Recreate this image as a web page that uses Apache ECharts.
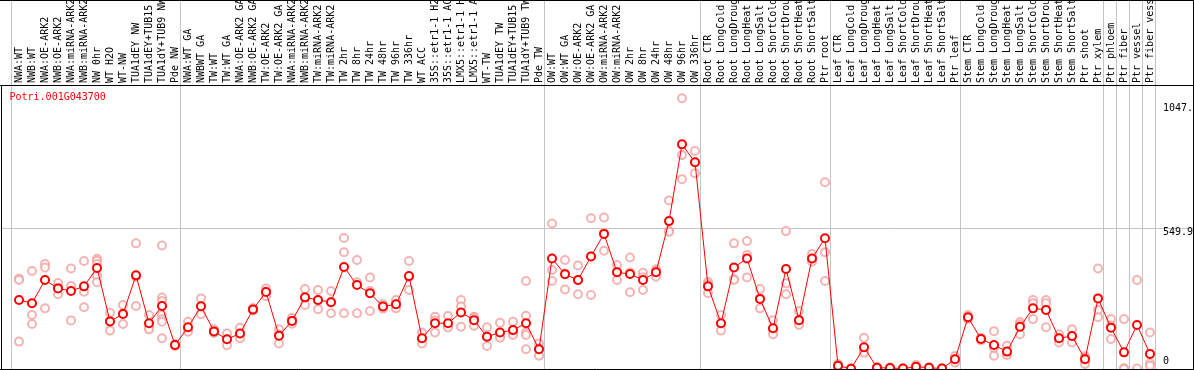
<!DOCTYPE html>
<html>
<head>
<meta charset="utf-8">
<script src="https://cdn.jsdelivr.net/npm/echarts@6/dist/echarts.min.js"></script>
<style>
html,body{margin:0;padding:0;background:#fff;}
#c{width:1194px;height:370px;}
</style>
</head>
<body>
<div id="c"></div>
<script>
const geneName = "Potri.001G043700";

const categories = [
  "NWA:WT","NWB:WT","NWA:OE-ARK2","NWB:OE-ARK2","NWA:miRNA-ARK2","NWB:miRNA-ARK2",
  "NW 0hr","WT H2O","WT-NW","TUA1dEY NW","TUA1dEY+TUB15 NW","TUA1dY+TUB9 NW","Pde NW",
  "NWA:WT GA","NWBWT GA","TW:WT","TW:WT GA","NWA:OE-ARK2 GA","NWB:OE-ARK2 GA",
  "TW:OE-ARK2","TW:OE-ARK2 GA","NWA:miRNA-ARK2 GA","NWB:miRNA-ARK2 GA","TW:miRNA-ARK2","TW:miRNA-ARK2 GA",
  "TW 2hr","TW 8hr","TW 24hr","TW 48hr","TW 96hr","TW 336hr","WT ACC",
  "35S::etr1-1 H2O","35S::etr1-1 ACC","LMX5::etr1-1 H2O","LMX5::etr1-1 ACC",
  "WT-TW","TUA1dEY TW","TUA1dEY+TUB15 TW","TUA1dY+TUB9 TW","Pde TW",
  "OW:WT","OW:WT GA","OW:OE-ARK2","OW:OE-ARK2 GA","OW:miRNA-ARK2","OW:miRNA-ARK2 GA",
  "OW 2hr","OW 8hr","OW 24hr","OW 48hr","OW 96hr","OW 336hr",
  "Root CTR","Root LongCold","Root LongDrought","Root LongHeat","Root LongSalt",
  "Root ShortCold","Root ShortDrought","Root ShortHeat","Root ShortSalt","Ptr root",
  "Leaf CTR","Leaf LongCold","Leaf LongDrought","Leaf LongHeat","Leaf LongSalt",
  "Leaf ShortCold","Leaf ShortDrought","Leaf ShortHeat","Leaf ShortSalt","Ptr leaf",
  "Stem CTR","Stem LongCold","Stem LongDrought","Stem LongHeat","Stem LongSalt",
  "Stem ShortCold","Stem ShortDrought","Stem ShortHeat","Stem ShortSalt","Ptr shoot",
  "Ptr xylem","Ptr phloem","Ptr fiber","Ptr vessel","Ptr fiber vessel"
];

const meanValues = [
  270,257,348,315,305,323,395,186,215,366,179,246,94,
  163,245,147,116,139,233,301,130,188,280,270,261,399,328,296,244,253,363,120,
  179,179,221,191,126,143,152,179,77,
  432,370,348,440,528,378,371,348,378,578,878,808,
  323,179,397,432,274,159,391,191,432,511,
  13,1,85,5,4,2,9,5,2,38,
  202,117,94,68,165,237,231,120,129,38,276,161,65,172,59
];

const replicateValues = [
  [354,348,107],[383,211,176],[410,397,237],[336,318,292],[393,324,190],[422,302,241],
  [431,423,410,365,339],[220,188,150],[250,218,176],[491,361,246],[211,163,155],
  [483,279,266,211,194,185,120],[98,92,90],
  [185,158,146],[276,245,214],[155,145,141],[139,116,93],[161,137,120],[238,232,229],
  [315,303,284],[155,135,100],[199,188,177],[313,278,250],[309,268,234],[305,261,218],
  [512,456,218],[426,339,218],[358,305,227],[253,244,236],[270,253,237],[422,360,309],
  [143,118,100],[204,190,143],[207,168,162],[270,244,165],[204,200,169],[163,126,90],
  [181,126,122],[185,139,133],[344,208,143,133,77],[100,80,52],
  [569,387,344],[426,373,311],[405,347,292],[589,440,289],[592,530,462],[406,380,348],
  [436,377,300],[376,359,309],[390,383,361],[659,539,536],[1058,836,742],[852,808,765],
  [341,332,296],[211,176,150],[491,352,348],[500,446,358],[313,274,237],[191,150,136],
  [539,335,292],[227,180,172],[449,430,419],[730,456,344],
  [20,15,5],[3,1,0],[122,70,64],[8,5,2],[6,4,2],[3,2,1],[16,8,3],[7,5,3],[3,2,1],[51,38,25],
  [211,200,195],[122,117,112],[148,82,52],[91,58,55],[184,175,136],[270,257,195],
  [270,257,163],[136,120,104],[155,128,104],[50,44,20],[393,231,202],[195,170,117],
  [195,3,0],[348,2],[143,22,13]
];

const yTickLabels = ["0","549.9","1047."];
const yTickValues = [0, 549.9, 1047];
const gridLineValues = [549.9];
// index of the last category in each group (-1 = before first)
const groupEnds = [-1,12,40,52,62,72,83,84,85,86,87];

const repPoints = [];
replicateValues.forEach((arr, i) => arr.forEach(v => repPoints.push([i, v])));

const FONT = "DejaVu Sans Mono";
const chart = echarts.init(document.getElementById('c'), null, {renderer: 'canvas'});
chart.setOption({
  animation: false,
  backgroundColor: '#ffffff',
  grid: {left: 12.5, right: 37.5, top: 85, bottom: 1, containLabel: false},
  xAxis: {
    type: 'category',
    position: 'top',
    data: categories,
    boundaryGap: true,
    axisLine: {show: false},
    axisTick: {show: false},
    splitLine: {show: false},
    axisLabel: {show: false}
  },
  yAxis: {
    type: 'value', min: 0, max: 1110, show: false
  },
  series: [
    {
      type: 'scatter',
      data: repPoints,
      symbol: 'emptyCircle',
      symbolSize: 8,
      z: 2,
      itemStyle: {color: '#f2a0a0', borderColor: '#f2a0a0', borderWidth: 1.4},
      silent: true
    },
    {
      type: 'line',
      data: meanValues,
      symbol: 'emptyCircle',
      symbolSize: 8,
      z: 4,
      lineStyle: {color: '#ff0000', width: 1},
      itemStyle: {color: '#ff0000', borderColor: '#ff0000', borderWidth: 1.6},
      silent: true
    }
  ]
});

const px0 = chart.convertToPixel({xAxisIndex: 0}, 0);
const px1 = chart.convertToPixel({xAxisIndex: 0}, 1);
const step = px1 - px0;
const yPix = v => chart.convertToPixel({yAxisIndex: 0}, v);

const W = 1194, BOTTOM = 369.5, TOPLINE = 85.5, RIGHT = 1193.5, LEFT = 1.5;
const grey = '#c4c4c4';
const g = [];
groupEnds.forEach(i => {
  const x = Math.round(px0 + i * step + 4.5) + 0.5;
  g.push({type: 'line', z: 0, silent: true,
    shape: {x1: x, y1: 0, x2: x, y2: BOTTOM},
    style: {stroke: grey, lineWidth: 1}});
});
gridLineValues.forEach(v => {
  const y = Math.round(yPix(v)) + 0.5;
  g.push({type: 'line', z: 0, silent: true,
    shape: {x1: LEFT, y1: y, x2: RIGHT, y2: y},
    style: {stroke: grey, lineWidth: 1}});
});
// category labels, rotated, reading bottom to top, starting just above the top line
categories.forEach((name, i) => {
  const x = chart.convertToPixel({xAxisIndex: 0}, i);
  g.push({type: 'text', z: 11, silent: true,
    x: x, y: 83, rotation: Math.PI / 2,
    style: {text: name, fill: '#000', font: '10px "' + FONT + '"',
      textAlign: 'left', textVerticalAlign: 'middle'}});
});
// frame
[[0, 0.5, W, 0.5], [0, TOPLINE, RIGHT, TOPLINE], [0, BOTTOM, RIGHT, BOTTOM],
 [LEFT, TOPLINE, LEFT, BOTTOM], [RIGHT, 0, RIGHT, BOTTOM]].forEach(s => {
  g.push({type: 'line', z: 12, silent: true,
    shape: {x1: s[0], y1: s[1], x2: s[2], y2: s[3]},
    style: {stroke: '#000', lineWidth: 1}});
});
// y tick labels
yTickValues.forEach((v, k) => {
  const y = yPix(v);
  const isZero = v === 0;
  g.push({type: 'text', z: 11, silent: true,
    x: 1163, y: isZero ? y - 3 : (k === 2 ? y + 2.5 : y - 0.5),
    style: {text: yTickLabels[k], fill: '#000', font: '10px "' + FONT + '"',
      textAlign: 'left', textVerticalAlign: isZero ? 'bottom' : 'top'}});
});
// gene name
g.push({type: 'text', z: 11, silent: true, x: 9.5, y: 92,
  style: {text: geneName, fill: '#ff0000', font: '10px "' + FONT + '"',
    textAlign: 'left', textVerticalAlign: 'top'}});

chart.setOption({graphic: g});
</script>
</body>
</html>
